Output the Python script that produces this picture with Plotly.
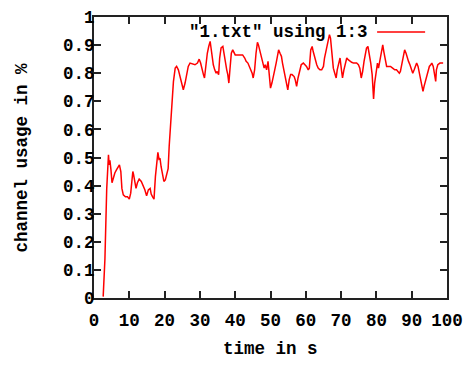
import plotly.graph_objects as go

time_s = [2.6, 3.1, 3.6, 4.1, 4.3, 4.5, 4.8, 5.1, 5.5, 5.9, 6.4, 6.9, 7.2, 7.6, 7.9, 8.3, 8.9, 9.5, 10.0, 10.4,
          10.7, 11.0, 11.2, 11.5, 11.9, 12.3, 12.8, 13.4, 14.0, 14.4, 14.9, 15.4, 15.9, 16.2, 16.6, 17.0, 17.4, 17.8,
          18.1, 18.4, 18.7, 19.0, 19.5, 19.8, 20.2, 20.6, 21.0, 21.3,
          22.0, 22.5, 23.0, 23.4, 23.9, 24.4, 24.8, 25.3, 25.8, 26.2, 26.7, 27.2, 27.9, 28.6, 29.3, 29.8, 30.2, 30.6,
          31.0, 31.3, 31.7, 32.1, 32.5, 32.9, 33.1, 33.4, 33.8, 34.2, 34.6, 34.9, 35.3, 35.6, 36.0, 36.5, 36.7, 37.1,
          37.6, 37.9, 38.2, 38.5, 38.9, 39.3, 39.7, 40.0, 40.6, 41.3, 42.1, 42.7, 43.1, 43.6, 44.0, 44.4, 44.8, 45.1,
          45.5, 45.9, 46.3, 46.6, 47.0, 47.4, 47.8, 48.2, 48.5, 48.9, 49.3, 49.7, 50.0, 50.4, 50.8, 51.2, 51.6, 51.9,
          52.3, 52.7, 53.1, 53.4, 53.8, 54.2, 54.6, 54.9, 55.3, 55.7, 56.1, 56.7, 57.0, 57.4, 57.8, 58.2, 58.7, 59.3,
          60.2, 60.7, 61.0, 61.4, 61.8, 62.1, 62.6, 63.1, 63.5, 64.0, 64.5, 65.0, 65.3, 65.9, 66.4, 66.7, 67.0, 67.2,
          67.5, 67.8, 68.2, 68.6, 68.9, 69.3, 69.7, 70.1, 70.4, 70.8, 71.2, 71.6, 72.0, 72.5, 73.0, 73.5, 73.9, 74.4,
          74.9, 75.3, 75.7, 76.1, 76.5, 76.9, 77.2, 77.6, 78.0, 78.4, 78.8, 79.0, 79.2, 79.5, 79.9, 80.3, 80.6, 81.0,
          81.4, 81.8, 82.1, 82.5, 82.9, 83.5, 84.0, 84.6, 85.2, 85.7, 86.1, 86.5, 86.8, 87.2, 87.6, 88.0, 88.4, 88.7,
          89.1, 89.5, 89.9, 90.3, 90.7, 91.0, 91.4, 91.8, 92.1, 92.5, 92.9, 93.2, 93.5, 93.9, 94.2, 94.6, 95.0, 95.4,
          95.7, 96.1, 96.5, 96.8, 97.0, 97.4, 98.0, 98.9]

channel_usage = [0.005, 0.14, 0.388, 0.51, 0.474, 0.49, 0.457, 0.41, 0.427, 0.445, 0.457, 0.468, 0.474, 0.45, 0.39,
                 0.367, 0.36, 0.36, 0.352, 0.373, 0.423, 0.45, 0.44, 0.42, 0.39, 0.41, 0.423, 0.415, 0.40, 0.385,
                 0.364, 0.385, 0.39, 0.37, 0.36, 0.352, 0.433, 0.486, 0.518, 0.494, 0.497, 0.468, 0.44, 0.415, 0.42,
                 0.445, 0.46, 0.54,
                 0.68, 0.77, 0.818, 0.824, 0.812, 0.788, 0.759, 0.741, 0.765, 0.795, 0.824, 0.836, 0.833, 0.83,
                 0.836, 0.85, 0.836, 0.812, 0.795, 0.783, 0.836, 0.871, 0.895, 0.913, 0.895, 0.86, 0.83, 0.812,
                 0.80, 0.806, 0.795, 0.854, 0.89, 0.895, 0.877, 0.848, 0.812, 0.795, 0.765, 0.812, 0.871, 0.883,
                 0.871, 0.865, 0.865, 0.865, 0.865, 0.854, 0.842, 0.836, 0.824, 0.812, 0.80, 0.783, 0.812, 0.871,
                 0.91, 0.90, 0.877, 0.86, 0.842, 0.818, 0.83, 0.812, 0.842, 0.80, 0.747, 0.765, 0.795, 0.812,
                 0.836, 0.854, 0.883, 0.871, 0.86, 0.836, 0.812, 0.788, 0.765, 0.741, 0.777, 0.795, 0.795, 0.788,
                 0.777, 0.753, 0.783, 0.80, 0.83, 0.836,
                 0.824, 0.812, 0.818, 0.883, 0.895, 0.877, 0.848, 0.83, 0.818, 0.812, 0.812, 0.824, 0.854, 0.895,
                 0.919, 0.937, 0.925, 0.895, 0.848, 0.818, 0.80, 0.783, 0.812, 0.836, 0.854, 0.812, 0.783, 0.812,
                 0.836, 0.854, 0.848, 0.842, 0.839, 0.836, 0.836, 0.836, 0.83, 0.818, 0.783, 0.806, 0.842, 0.865,
                 0.889, 0.895, 0.871, 0.836, 0.795, 0.741, 0.708, 0.765, 0.812, 0.836, 0.818, 0.842, 0.871, 0.901,
                 0.877, 0.842, 0.824, 0.824, 0.824, 0.818, 0.812, 0.812, 0.806, 0.80, 0.806, 0.83, 0.86, 0.883,
                 0.871, 0.854, 0.842, 0.83, 0.812, 0.80, 0.812, 0.824, 0.836, 0.824, 0.806, 0.783, 0.753, 0.735,
                 0.753, 0.771, 0.788, 0.806, 0.824, 0.83, 0.836, 0.824, 0.795, 0.771, 0.812, 0.83, 0.836, 0.836]

x_ticks = [0, 10, 20, 30, 40, 50, 60, 70, 80, 90, 100]
y_ticks = [0, 0.1, 0.2, 0.3, 0.4, 0.5, 0.6, 0.7, 0.8, 0.9, 1]
series_name = '"1.txt" using 1:3'
x_title = "time in s"
y_title = "channel usage in %"

FONT = dict(family="Liberation Mono, DejaVu Sans Mono, monospace", size=17.5, color="black")

fig = go.Figure()
fig.add_trace(go.Scatter(x=time_s, y=channel_usage, mode="lines", name=series_name,
                         line=dict(color="#ff0000", width=1.5), showlegend=False, hoverinfo="skip"))

axis_common = dict(showgrid=False, zeroline=False, showline=True, linecolor="#222222", linewidth=2,
                   mirror="allticks", ticks="inside", ticklen=7, tickwidth=1.5, tickcolor="#222222",
                   tickfont=FONT, automargin=False)
fig.update_xaxes(range=[0, 100], tickvals=x_ticks, ticktext=[f"<b>{v}</b>" for v in x_ticks],
                 ticklabelstandoff=5, **axis_common)
fig.update_yaxes(range=[0, 1], tickvals=y_ticks, ticktext=[f"<b>{v:g}</b>" for v in y_ticks],
                 ticklabelstandoff=-6, **axis_common)

fig.add_annotation(xref="paper", yref="paper", x=0.5, y=-0.181, xanchor="center", yanchor="middle",
                   text=f"<b>{x_title}</b>", showarrow=False, font=FONT)
fig.add_annotation(xref="paper", yref="paper", x=-0.204, y=0.5, xanchor="center", yanchor="middle",
                   text=f"<b>{y_title}</b>", showarrow=False, font=FONT, textangle=-90)
fig.add_annotation(xref="paper", yref="paper", x=0.782, y=0.947, xanchor="right", yanchor="middle",
                   text=f"<b>{series_name}</b>", showarrow=False, font=FONT)
fig.add_shape(type="line", xref="paper", yref="paper", x0=0.802, x1=0.938, y0=0.947, y1=0.947,
              line=dict(color="#ff0000", width=1.5))

fig.update_layout(width=470, height=367, margin=dict(l=94, r=23, t=17, b=69),
                  plot_bgcolor="white", paper_bgcolor="white", font=FONT, hovermode=False)
fig.write_html("out.html", config={"displayModeBar": False},
               post_script="document.body.style.margin='0px';")
